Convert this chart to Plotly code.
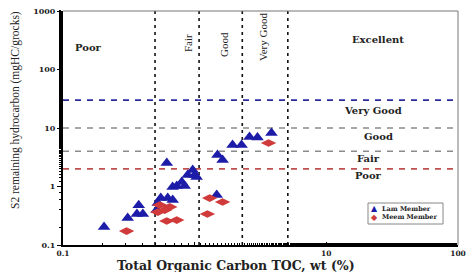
import plotly.graph_objects as go

# ---- data ----
lam_toc = [0.205, 0.31, 0.364, 0.404, 0.376, 0.614, 0.966, 0.885, 1.0, 1.035, 0.798,
           0.731, 0.84, 0.68, 0.553, 0.624, 0.681, 0.525, 0.515, 1.47, 1.49, 1.63,
           1.94, 2.27, 2.61, 3.0, 3.83]
lam_s2 = [0.203, 0.29, 0.339, 0.34, 0.48, 2.52, 1.91, 1.57, 1.57, 1.45, 1.19,
          1.02, 1.02, 0.98, 0.635, 0.635, 0.588, 0.522, 0.396, 0.716, 3.45, 2.84,
          5.12, 5.12, 7.0, 6.9, 8.2]
meem_toc = [0.304, 0.543, 0.593, 0.647, 0.525, 0.614, 0.731, 1.30, 1.63, 1.25, 3.64]
meem_s2 = [0.173, 0.483, 0.396, 0.447, 0.366, 0.257, 0.267, 0.635, 0.543, 0.339, 5.54]

series_names = ["Lam Member", "Meem Member"]
series_colors = ["#1c1ca8", "#d13a3a"]

toc_limits = [0.5, 1.08, 2.3, 5.1]          # vertical dotted lines
s2_limits = [30, 10, 4, 2]                   # horizontal dashed lines
s2_colors = ["#2b2b9a", "#8a8a8a", "#8a8a8a", "#c0504d"]

x_tickvals = [0.1, 1, 10, 100]
x_ticktext = ["0.1", "", "10", "100"]
y_tickvals = [0.1, 1, 10, 100, 1000]
y_ticktext = ["0.1", "1", "10", "100", "1000"]

# ---- layout geometry (pixels) ----
W, H = 466, 272
L, R, T, B = 63, 8, 11, 27
PW, PH = W - L - R, H - T - B


def px(xp):
    return (xp - L) / PW


def py(yp):
    return (H - B - yp) / PH


fig = go.Figure()

# horizontal lines
for v, c in zip(s2_limits, s2_colors):
    fig.add_trace(go.Scatter(x=[0.1, 100], y=[v, v], mode="lines",
                             line=dict(color=c, width=1.6, dash="6px,6px"),
                             showlegend=False, hoverinfo="skip"))
# vertical lines
for v in toc_limits:
    fig.add_trace(go.Scatter(x=[v, v], y=[0.1, 1000], mode="lines",
                             line=dict(color="#111111", width=1.6, dash="3px,4px"),
                             showlegend=False, hoverinfo="skip"))

fig.add_trace(go.Scatter(x=lam_toc, y=lam_s2, mode="markers", name=series_names[0],
                         showlegend=False,
                         marker=dict(symbol="triangle-up", size=11, color=series_colors[0])))
fig.add_trace(go.Scatter(x=meem_toc, y=meem_s2, mode="markers", name=series_names[1],
                         showlegend=False,
                         marker=dict(symbol="diamond-wide", size=11, color=series_colors[1])))

serif_b = dict(family="DejaVu Serif", weight="bold", color="#222222")
serif = dict(family="Liberation Serif", color="#222222")


def note(text, xp, yp, font, angle=0, xanchor="center"):
    return dict(text=text, x=px(xp), y=py(yp), xref="paper", yref="paper",
                xanchor=xanchor, yanchor="middle", showarrow=False,
                textangle=angle, font=font)


ann = []
# horizontal region labels
for text, xp, yp in [("Poor", 88, 47), ("Excellent", 378, 39), ("Very Good", 373, 110),
                     ("Good", 378, 136), ("Fair", 368, 158), ("Poor", 368, 175)]:
    ann.append(note(text, xp, yp, dict(size=10, **serif_b)))
# rotated labels
for text, xp, yp in [("Fair", 188, 43), ("Good", 224, 45), ("Very Good", 263, 37)]:
    ann.append(note(text, xp, yp, dict(size=11, **serif), angle=-90))
# axis titles
ann.append(note("S2 remaining hydrocarbon (mgHC/grocks)", 15, 110,
                dict(size=11.5, **serif), angle=-90))
ann.append(note("Total Organic Carbon TOC, wt (%)", 236, 265,
                dict(size=12.5, **serif_b)))

# legend (drawn as a box with symbol + text entries)
legend_shapes = [dict(type="rect", xref="paper", yref="paper",
                      x0=px(368), x1=px(443), y0=py(224), y1=py(203),
                      line=dict(color="#888888", width=1), fillcolor="white", layer="above")]
for i, (name, sym, col) in enumerate(zip(series_names, ["\u25B2", "\u25C6"], series_colors)):
    yy = 208.5 + i * 8.5
    ann.append(note(sym, 374, yy, dict(size=8, color=col, family="DejaVu Sans")))
    ann.append(note(name, 380, yy, dict(size=6.5, **serif_b), xanchor="left"))

fig.update_layout(
    width=W, height=H,
    margin=dict(l=L, r=R, t=T, b=B, autoexpand=False),
    paper_bgcolor="white", plot_bgcolor="white",
    annotations=ann,
    showlegend=False,
    shapes=[
        dict(type="line", xref="paper", yref="paper", x0=0, x1=1, y0=1, y1=1,
             line=dict(color="#777777", width=1)),
        dict(type="line", xref="paper", yref="paper", x0=1, x1=1, y0=0, y1=1,
             line=dict(color="#777777", width=1)),
    ] + legend_shapes,
)
fig.update_xaxes(type="log", range=[-1, 2], showgrid=False, zeroline=False,
                 showline=True, linecolor="black", linewidth=2, automargin=False,
                 tickvals=x_tickvals, ticktext=x_ticktext, ticks="inside",
                 ticklen=3, tickcolor="black", ticklabelstandoff=0,
                 minor=dict(ticks="inside", ticklen=2, tickcolor="black", showgrid=False),
                 tickfont=dict(size=7.5, **serif_b))
fig.update_yaxes(type="log", range=[-1, 3], showgrid=False, zeroline=False,
                 showline=True, linecolor="black", linewidth=2, automargin=False,
                 tickvals=y_tickvals, ticktext=y_ticktext, ticks="outside",
                 ticklen=4, tickcolor="black",
                 minor=dict(ticks="outside", ticklen=2, tickcolor="black", showgrid=False),
                 tickfont=dict(size=8, **serif_b))

fig.write_html("out.html")
